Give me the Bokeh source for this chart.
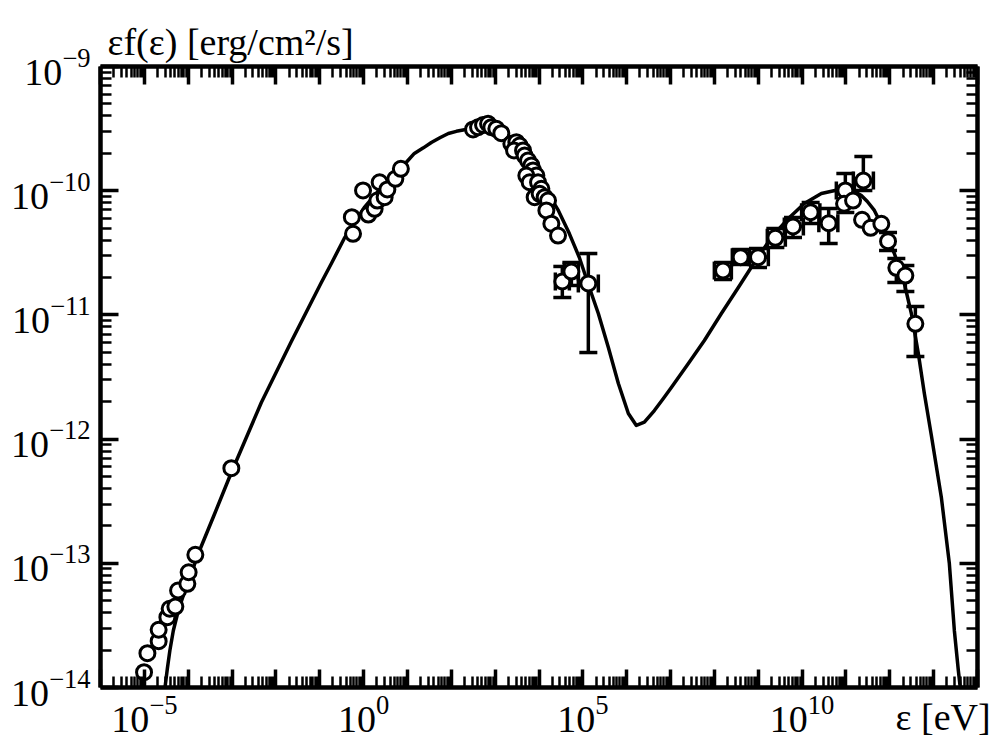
import numpy as np
from bokeh.plotting import figure
from bokeh.models import (ColumnDataSource, FixedTicker, LogAxis, Whisker, TeeHead,
                          CustomJSTickFormatter, LogTickFormatter)
from bokeh.embed import file_html
from bokeh.resources import INLINE

# ---------------- data (log10 of energy [eV] and of eF(e) [erg/cm2/s]) ----------------
radio_log_e = [-5.007, -4.930, -4.674, -4.674, -4.475, -4.423, -4.293, -4.231, -4.019, -3.990, -3.837, -3.016]
radio_log_f = [-13.877, -13.724, -13.627, -13.535, -13.434, -13.366, -13.348, -13.219, -13.165, -13.072, -12.932, -12.234]

optical_log_e = [-0.241, -0.268, -0.013, 0.108, 0.252, 0.314, 0.366, 0.480, 0.542, 0.724, 0.850]
optical_log_f = [-10.347, -10.213, -9.998, -10.192, -10.146, -10.079, -9.932, -10.052, -9.990, -9.904, -9.824]

uvx_log_e = [2.496, 2.610, 2.724, 2.838, 2.913, 3.027, 3.141,
             3.369, 3.483, 3.559, 3.431, 3.636, 3.673, 3.750, 3.826, 3.864, 3.940, 3.711,
             3.787, 3.978, 4.054, 3.901, 4.015, 4.129, 4.206, 4.168, 4.282, 4.434]
uvx_log_f = [-9.507, -9.489, -9.471, -9.461, -9.489, -9.502, -9.537,
             -9.622, -9.609, -9.636, -9.676, -9.676, -9.717, -9.757, -9.797, -9.837, -9.878, -9.878,
             -9.932, -9.932, -9.985, -10.052, -10.025, -10.052, -10.079, -10.159, -10.266, -10.361]

hx_log_e = [4.532, 4.738, 5.125]
hx_log_f = [-10.731, -10.651, -10.747]
hx_log_e_lo = [4.373, 4.578, 4.897]
hx_log_e_hi = [4.692, 4.897, 5.353]
hx_log_f_lo = [-10.860, -10.763, -11.303]
hx_log_f_hi = [-10.610, -10.578, -10.506]

gam_log_e = [8.197, 8.599, 8.995, 9.390, 9.793, 10.195, 10.606, 10.986, 10.957, 11.162,
             11.397, 11.367, 11.563, 11.807, 11.960, 12.149, 12.355, 12.583]
gam_log_f = [-10.643, -10.535, -10.535, -10.379, -10.288, -10.173, -10.262, -9.998, -10.105, -10.079,
             -9.918, -10.234, -10.299, -10.267, -10.407, -10.621, -10.683, -11.072]
gam_log_e_lo = [7.999, 8.409, 8.797, 9.207, 9.595, 9.989, 10.382, 10.781, None, None,
                11.169, None, None, None, None, None, None, None]
gam_log_e_hi = [8.387, 8.797, 9.230, 9.618, 10.029, 10.405, 10.815, 11.192, None, None,
                11.626, None, None, None, None, None, None, None]
gam_log_f_lo = [-10.715, -10.594, -10.618, -10.457, -10.377, -10.264, -10.425, -10.176, None, None,
                -9.998, None, None, None, -10.481, -10.739, -10.812, -11.335]
gam_log_f_hi = [-10.578, -10.473, -10.465, -10.304, -10.216, -10.095, -10.143, -9.862, None, None,
                -9.725, None, None, None, -10.337, -10.546, -10.602, -10.932]

model_log_e = [-4.532, -4.475, -4.418, -4.339, -4.225, -4.088, -3.928, -3.769, -3.404, -3.016,
               -2.674, -2.332, -1.648, -0.964, -0.735, -0.439, 0.017, 0.405, 0.792, 0.975,
               1.157, 1.363, 1.545, 1.750, 1.933, 2.115, 2.298, 2.457, 2.617, 2.777,
               2.913, 3.210, 3.529, 3.825, 4.122, 4.441,
               4.692, 4.920, 5.148, 5.353, 5.582, 5.810, 6.038, 6.220, 6.403, 6.631,
               6.836, 7.018, 7.406, 7.771, 8.159, 8.546, 8.911, 9.299, 9.687, 10.051, 10.439,
               10.827, 11.055, 11.214, 11.351, 11.488, 11.648, 11.876, 12.104, 12.332, 12.492,
               12.651, 12.788, 12.948, 13.176, 13.358, 13.472, 13.563, 13.609]
model_log_f = [-14.008, -13.847, -13.702, -13.541, -13.380, -13.235, -13.082, -12.921, -12.607, -12.269,
               -11.987, -11.705, -11.214, -10.739, -10.586, -10.383, -10.135, -9.974, -9.821, -9.771,
               -9.700, -9.655, -9.612, -9.572, -9.539, -9.522, -9.510, -9.501, -9.499, -9.506,
               -9.519, -9.580, -9.676, -9.811, -9.974, -10.159,
               -10.345, -10.538, -10.779, -10.989, -11.262, -11.552, -11.794, -11.890, -11.864, -11.770,
               -11.673, -11.585, -11.391, -11.206, -10.989, -10.779, -10.578, -10.377, -10.224, -10.103, -10.023,
               -9.993, -9.993, -10.010, -10.039, -10.087, -10.159, -10.320, -10.506, -10.747, -10.989,
               -11.311, -11.633, -11.971, -12.470, -13.002, -13.541, -13.863, -14.008]

x_label_exps = [-5, 0, 5, 10]
x_title_decade = 13          # the energy axis title sits under this decade
x_title = "\u00a0\u00a0ε [eV]"
y_title = "εf(ε) [erg/cm²/s]"
x_decades = list(range(-6, 15))
y_decades = list(range(-14, -8))

X_RANGE = (1e-6, 1e14)
Y_RANGE = (1e-14, 1e-9)

FONT = "Liberation Serif"
BIG = "38px"


def p10(a):
    return [10.0 ** v for v in a]


def js_num(k):
    # JavaScript string form of 10**k (as used for tick keys)
    return "1" + "0" * k if k >= 0 else "0." + "0" * (-k - 1) + "1"


p = figure(width=995, height=740, x_axis_type="log", y_axis_type="log",
           x_range=X_RANGE, y_range=Y_RANGE, output_backend="svg", toolbar_location=None,
           min_border_left=100, min_border_right=18, min_border_top=66, min_border_bottom=53)
p.outline_line_color = None
p.xgrid.visible = False
p.ygrid.visible = False
p.background_fill_color = "white"
p.border_fill_color = "white"

x_major = [10.0 ** k for k in x_decades]
y_major = [10.0 ** k for k in y_decades]
xt = FixedTicker(ticks=x_major,
                 minor_ticks=[m * 10.0 ** k for k in x_decades[:-1] for m in range(2, 10)])
yt = FixedTicker(ticks=y_major,
                 minor_ticks=[m * 10.0 ** k for k in y_decades[:-1] for m in range(2, 10)])


def style(ax, ticker):
    ax.ticker = ticker
    ax.axis_line_width = 4.5
    ax.axis_line_color = "black"
    ax.major_tick_in = 18
    ax.major_tick_out = 0
    ax.minor_tick_in = 11
    ax.minor_tick_out = 0
    ax.major_tick_line_width = 3.5
    ax.minor_tick_line_width = 2.5
    ax.major_tick_line_color = "black"
    ax.minor_tick_line_color = "black"


def hide_labels(ax):
    ax.formatter = CustomJSTickFormatter(code="return ''")
    ax.major_label_text_font_size = "2px"
    ax.major_label_text_color = None
    ax.major_label_standoff = 0


xa = p.xaxis[0]
ya = p.yaxis[0]
style(xa, xt)
style(ya, yt)
xa.formatter = LogTickFormatter()
ya.formatter = LogTickFormatter()
for ax in (xa, ya):
    ax.major_label_text_font = FONT
    ax.major_label_text_font_size = BIG
    ax.major_label_text_color = "black"
xa.major_label_standoff = 8
ya.major_label_standoff = 10

overrides = {}
for k in x_decades:
    if k in x_label_exps:
        continue
    txt = x_title if k == x_title_decade else ""
    overrides[10.0 ** k] = txt
    overrides[js_num(k)] = txt
xa.major_label_overrides = overrides

top_ax = LogAxis()
right_ax = LogAxis()
style(top_ax, xt)
style(right_ax, yt)
hide_labels(top_ax)
hide_labels(right_ax)
p.add_layout(top_ax, "above")
p.add_layout(right_ax, "right")

p.title.text = y_title
p.title.align = "left"
p.title.offset = 7
p.title.text_font = FONT
p.title.text_font_size = BIG
p.title.text_font_style = "normal"
p.title.text_color = "black"
p.title.standoff = 8

# model curve
p.line(p10(model_log_e), p10(model_log_f), line_width=3.5, line_color="black",
       line_join="round")

# error bars
hx_src = ColumnDataSource(dict(x=p10(hx_log_e), y=p10(hx_log_f), xlo=p10(hx_log_e_lo),
                               xhi=p10(hx_log_e_hi), ylo=p10(hx_log_f_lo), yhi=p10(hx_log_f_hi)))

gx_idx = [i for i, v in enumerate(gam_log_e_lo) if v is not None]
gy_idx = [i for i, v in enumerate(gam_log_f_lo) if v is not None]
gx_src = ColumnDataSource(dict(
    y=p10([gam_log_f[i] for i in gx_idx]),
    xlo=p10([gam_log_e_lo[i] for i in gx_idx]),
    xhi=p10([gam_log_e_hi[i] for i in gx_idx])))
gy_src = ColumnDataSource(dict(
    x=p10([gam_log_e[i] for i in gy_idx]),
    ylo=p10([gam_log_f_lo[i] for i in gy_idx]),
    yhi=p10([gam_log_f_hi[i] for i in gy_idx])))


def tee():
    return TeeHead(size=18, line_width=3.5, line_color="black")


for src in (hx_src, gy_src):
    p.add_layout(Whisker(source=src, base="x", lower="ylo", upper="yhi", dimension="height",
                         line_width=3.5, line_color="black", lower_head=tee(), upper_head=tee()))
for src in (hx_src, gx_src):
    p.add_layout(Whisker(source=src, base="y", lower="xlo", upper="xhi", dimension="width",
                         line_width=3.5, line_color="black", lower_head=tee(), upper_head=tee()))

# data points
all_e = radio_log_e + optical_log_e + uvx_log_e + hx_log_e + gam_log_e
all_f = radio_log_f + optical_log_f + uvx_log_f + hx_log_f + gam_log_f
p.scatter(p10(all_e), p10(all_f), marker="circle", size=15, fill_color="white",
          line_color="black", line_width=3)

open("out.html", "w").write(file_html(p, INLINE))
